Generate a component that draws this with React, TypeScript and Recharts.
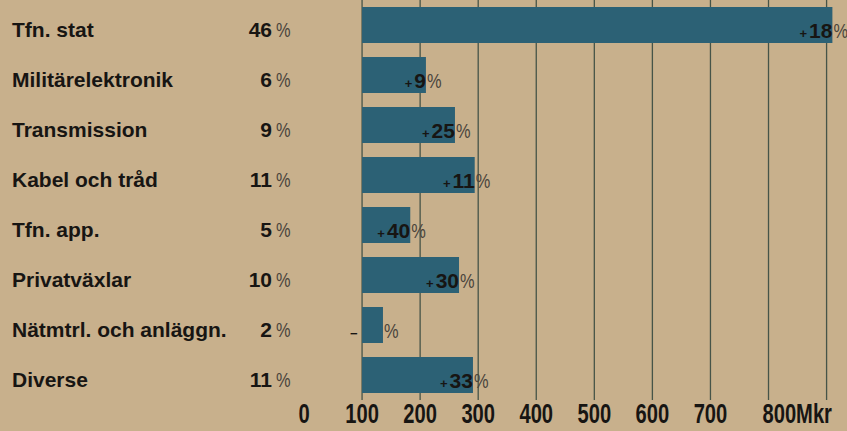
import React from 'react';
import { BarChart, Bar, XAxis, YAxis, CartesianGrid, LabelList } from 'recharts';

const categories = [
  'Tfn. stat',
  'Militärelektronik',
  'Transmission',
  'Kabel och tråd',
  'Tfn. app.',
  'Privatväxlar',
  'Nätmtrl. och anläggn.',
  'Diverse',
];
const sharePct = [46, 6, 9, 11, 5, 10, 2, 11];
const salesMkr = [810, 110, 160, 194, 83, 167, 36, 191];
const growth = ['+18', '+9', '+25', '+11', '+40', '+30', '−\u2007\u2007', '+33'];
const xTickValues = [-100, 0, 100, 200, 300, 400, 500, 600, 700];
const xTickLabels = ['0', '100', '200', '300', '400', '500', '600', '700', '800'];
const gridValues = [0, 100, 200, 300, 400, 500, 600, 700, 800];
const unit = 'Mkr';

const data = categories.map((name, i) => ({
  name,
  share: sharePct[i],
  sales: salesMkr[i],
  growth: growth[i],
}));

const BG = '#c8b08c';
const BAR = '#2c6175';
const INK = '#171513';
const SOFT = '#4a443c';
const FONT = '"Liberation Sans", Arial, sans-serif';

const YTick = (props: any) => {
  const { y, payload } = props;
  const i = categories.indexOf(payload.value);
  return (
    <g>
      <text x={12} y={y + 12} fontFamily={FONT} fontWeight={700} fontSize={21} fill={INK}>
        {payload.value}
      </text>
      <text x={272} y={y + 12} textAnchor="end" fontFamily={FONT} fontWeight={700} fontSize={21} fill={INK}>
        {sharePct[i]}
      </text>
      <text
        transform={`translate(276, ${y + 12}) scale(0.82, 1)`}
        fontFamily={FONT}
        fontWeight={400}
        fontSize={20}
        fill={SOFT}
      >
        %
      </text>
    </g>
  );
};

const XTick = (props: any) => {
  const { x, y, payload } = props;
  const i = xTickValues.indexOf(payload.value);
  const label = xTickLabels[i];
  const last = i === xTickValues.length - 1;
  const tx = last ? x - 6 : x;
  return (
    <text
      transform={`translate(${tx}, ${y + 23}) scale(0.72, 1)`}
      textAnchor={last ? 'start' : 'middle'}
      fontFamily={FONT}
      fontWeight={700}
      fontSize={28}
      fill={INK}
    >
      {last ? label + unit : label}
    </text>
  );
};

const GrowthLabel = (props: any) => {
  const { x, y, width, height, index } = props;
  const g = growth[index];
  const sign = g.charAt(0);
  const num = g.slice(1);
  const end = x + width;
  const by = y + height / 2 + 13;
  return (
    <g>
      <text x={end} y={by} textAnchor="end" fontFamily={FONT} fontWeight={700} fill={INK}>
        <tspan fontSize={13}>{sign}</tspan>
        <tspan dx={2} fontSize={21}>{num}</tspan>
      </text>
      <text
        transform={`translate(${end + 1}, ${by}) scale(0.82, 1)`}
        fontFamily={FONT}
        fontWeight={400}
        fontSize={20}
        fill={SOFT}
      >
        %
      </text>
    </g>
  );
};

export default function App() {
  return (
    <div style={{ position: 'absolute', left: 0, top: 0, width: 847, height: 431, background: BG }}>
      <BarChart
        width={847}
        height={431}
        data={data}
        layout="vertical"
        margin={{ top: 0, right: 3, bottom: 0, left: 0 }}
        barSize={36}
      >
        <CartesianGrid
          horizontal={false}
          vertical={true}
          verticalValues={gridValues}
          stroke="#465448"
          strokeWidth={1.3}
        />
        <XAxis
          type="number"
          domain={[-100, 830]}
          ticks={xTickValues}
          allowDataOverflow
          axisLine={false}
          tickLine={false}
          tickSize={0}
          tickMargin={0}
          height={31}
          tick={<XTick />}
          interval={0}
        />
        <YAxis
          type="category"
          dataKey="name"
          width={304}
          axisLine={false}
          tickLine={false}
          tick={<YTick />}
          interval={0}
        />
        <Bar dataKey="sales" fill={BAR} isAnimationActive={false}>
          <LabelList dataKey="growth" content={<GrowthLabel />} />
        </Bar>
      </BarChart>
    </div>
  );
}
